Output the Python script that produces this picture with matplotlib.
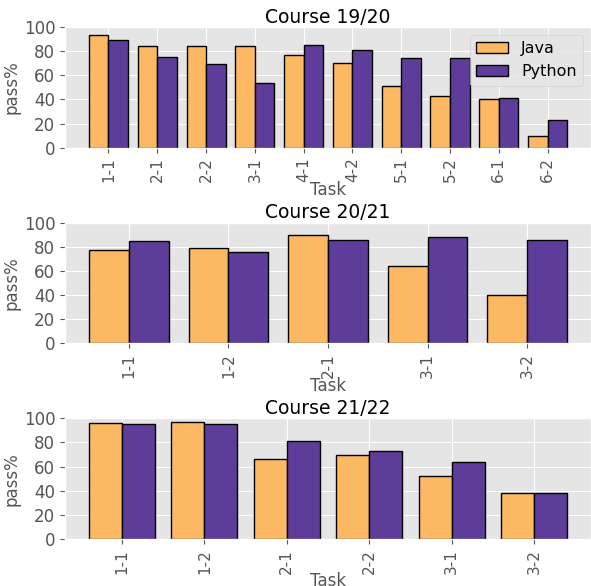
import numpy as np
import matplotlib
matplotlib.use("Agg")
import matplotlib.pyplot as plt

plt.style.use("ggplot")

# datos de cada curso
titulos = ["Course 19/20", "Course 20/21", "Course 21/22"]

tareas_1920 = ["1-1", "2-1", "2-2", "3-1", "4-1", "4-2", "5-1", "5-2", "6-1", "6-2"]
java_1920 = [93, 84, 84, 84, 77, 70, 51, 43, 40, 10]
python_1920 = [89, 75, 69, 54, 85, 81, 74, 74, 41, 23]

tareas_2021 = ["1-1", "1-2", "2-1", "3-1", "3-2"]
java_2021 = [77, 79, 90, 64, 40]
python_2021 = [85, 76, 86, 88, 86]

tareas_2122 = ["1-1", "1-2", "2-1", "2-2", "3-1", "3-2"]
java_2122 = [96, 97, 66, 70, 52, 38]
python_2122 = [95, 95, 81, 73, 64, 38]

cursos = [
    (tareas_1920, java_1920, python_1920),
    (tareas_2021, java_2021, python_2021),
    (tareas_2122, java_2122, python_2122),
]

color_java = "#fdb863"
color_python = "#5e3c99"
ancho = 0.4

fig, axes = plt.subplots(3, 1, figsize=(5.91, 5.86), dpi=100)
fig.subplots_adjust(left=0.110, right=1.0, top=0.954, bottom=0.080, hspace=0.62)

for ax, titulo, (tareas, java, python) in zip(axes, titulos, cursos):
    x = np.arange(len(tareas))
    ax.bar(x, java, width=-ancho, align="edge", color=color_java,
           edgecolor="black", linewidth=1, label="Java")
    ax.bar(x, python, width=ancho, align="edge", color=color_python,
           edgecolor="black", linewidth=1, label="Python")
    ax.set_xticks(x)
    ax.set_xticklabels(tareas, rotation=90, fontsize=11)
    ax.tick_params(axis="y", labelsize=12)
    ax.set_ylim(0, 100)
    ax.set_yticks([0, 20, 40, 60, 80, 100])
    ax.set_title(titulo, fontsize=13.5, pad=3)
    ax.set_ylabel("pass%", fontsize=12, labelpad=2)
    ax.set_xlabel("Task", fontsize=12, labelpad=-1)

axes[0].legend(loc="upper right", fontsize=11.5)

plt.savefig("out.png", dpi=100)
